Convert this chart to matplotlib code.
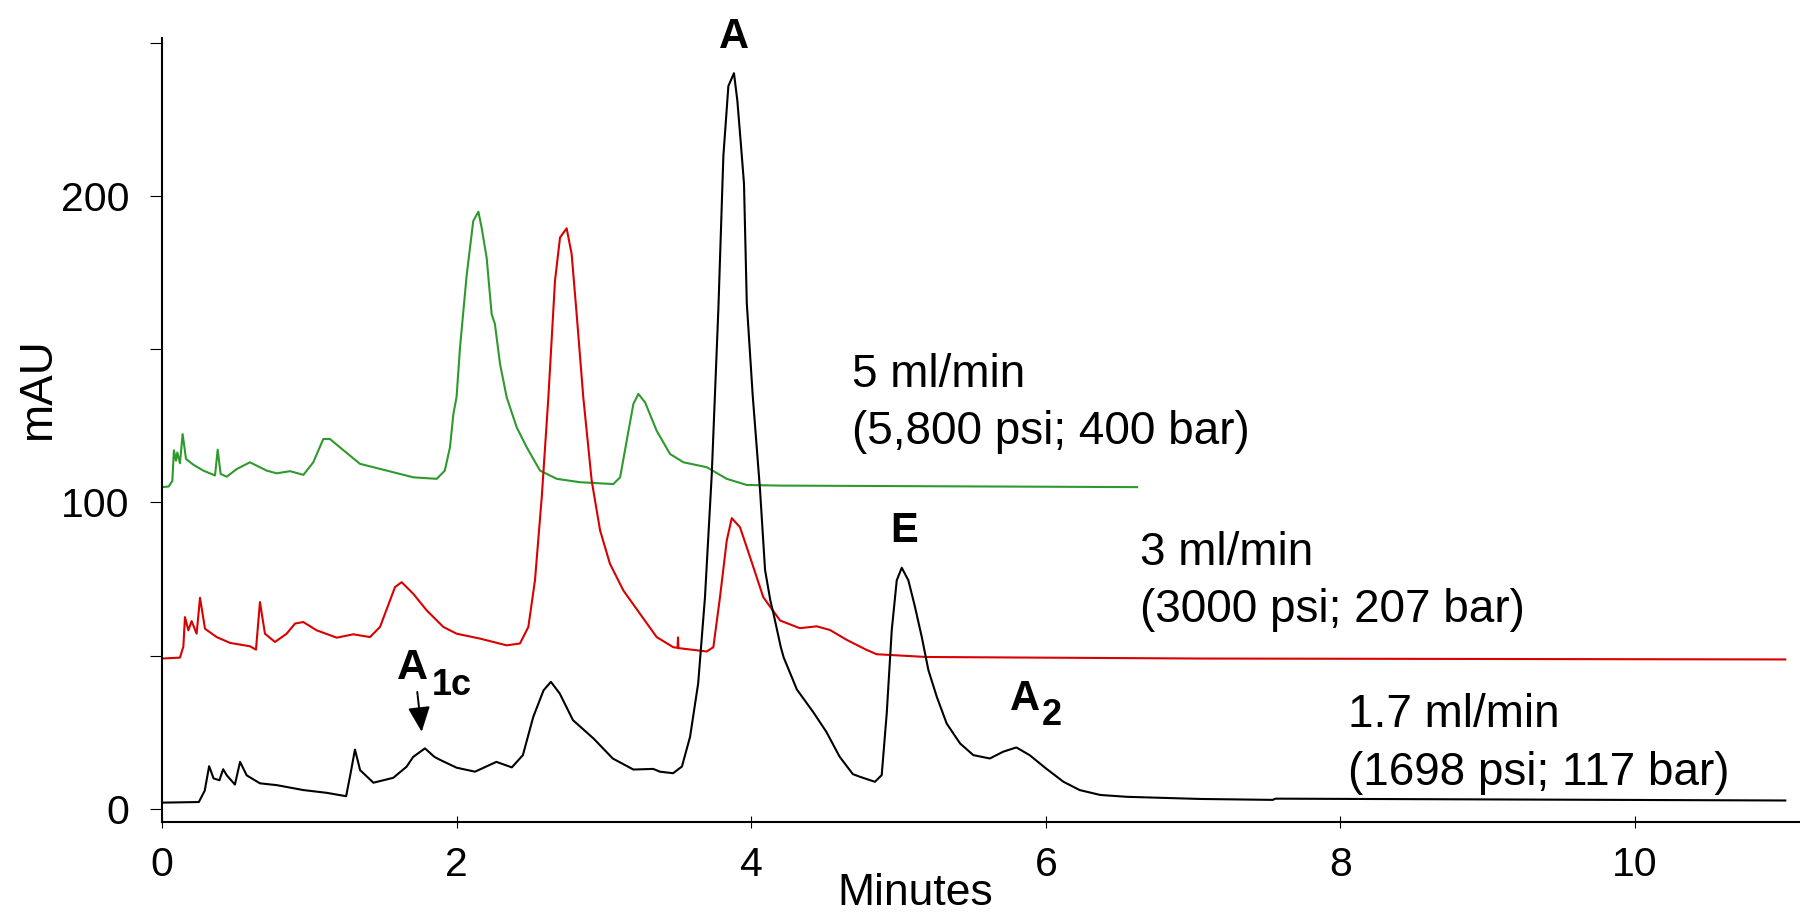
import matplotlib
matplotlib.use("Agg")
import matplotlib.pyplot as plt

# 1.7 ml/min trace (black) : minutes, mAU
t_17 = [0.0, 0.25, 0.29, 0.32, 0.35, 0.39, 0.415, 0.44, 0.495, 0.53, 0.575, 0.665,
        0.78, 0.96, 1.118, 1.25, 1.28, 1.31, 1.345, 1.435, 1.57, 1.66, 1.705, 1.785,
        1.85, 1.89, 2.0, 2.125, 2.27, 2.375, 2.45, 2.52, 2.59, 2.64, 2.70, 2.79,
        2.93, 3.06, 3.2, 3.335, 3.38, 3.47, 3.53, 3.585, 3.64, 3.686, 3.732, 3.777,
        3.811, 3.845, 3.883, 3.906, 3.928, 3.951, 3.97, 4.01, 4.06, 4.094, 4.13,
        4.15, 4.2, 4.22, 4.31, 4.42, 4.51, 4.6, 4.69, 4.74, 4.84, 4.886, 4.92,
        4.954, 4.988, 5.022, 5.067, 5.112, 5.158, 5.203, 5.26, 5.327, 5.418, 5.508,
        5.62, 5.71, 5.80, 5.89, 6.0, 6.12, 6.23, 6.37, 6.55, 7.05, 7.54, 7.56, 11.02]
v_17 = [2.1, 2.3, 6.0, 14.0, 10.0, 9.4, 13.0, 11.0, 8.0, 15.4, 11.0, 8.4,
        7.8, 6.2, 5.3, 4.2, 11.6, 19.4, 12.7, 8.6, 10.2, 13.8, 17.0, 19.8,
        17.0, 16.0, 13.5, 12.2, 15.4, 13.6, 17.6, 30.0, 38.7, 41.5, 37.7, 29.0,
        23.0, 16.5, 12.9, 13.1, 12.2, 11.7, 13.9, 23.6, 41.0, 69.0, 109.0, 163.0,
        213.0, 235.8, 240.0, 231.0, 218.0, 204.0, 165.0, 135.0, 104.0, 78.0, 68.0,
        64.0, 53.0, 49.5, 39.0, 31.7, 25.2, 17.1, 11.4, 10.5, 8.9, 11.1, 31.2,
        58.3, 74.6, 78.7, 74.6, 65.9, 56.1, 45.3, 36.6, 27.9, 21.4, 17.6,
        16.5, 18.7, 20.1, 17.6, 13.3, 8.9, 6.2, 4.6, 4.0, 3.3, 3.0, 3.4, 2.8]

# 3 ml/min trace (red)
t_3 = [0.0, 0.122, 0.145, 0.156, 0.179, 0.201, 0.235, 0.258, 0.292, 0.371, 0.462,
       0.597, 0.638, 0.665, 0.699, 0.767, 0.846, 0.903, 0.959, 1.05, 1.186, 1.299,
       1.412, 1.48, 1.582, 1.627, 1.706, 1.797, 1.91, 2.0, 2.159, 2.34, 2.43, 2.487,
       2.532, 2.578, 2.623, 2.668, 2.702, 2.747, 2.781, 2.815, 2.86, 2.917, 2.974,
       3.041, 3.132, 3.245, 3.358, 3.471, 3.50, 3.503, 3.506, 3.698, 3.743, 3.788,
       3.834, 3.868, 3.924, 3.992, 4.082, 4.196, 4.33, 4.445, 4.535, 4.648, 4.784,
       4.852, 5.19, 7.05, 11.02]
v_3 = [49.1, 49.4, 53.0, 62.6, 58.3, 61.3, 57.2, 68.9, 58.8, 56.1, 54.2,
       53.1, 52.0, 67.5, 57.2, 54.5, 57.2, 60.5, 61.0, 58.3, 55.9, 57.0,
       56.1, 59.4, 72.4, 74.0, 70.2, 64.8, 59.4, 57.2, 55.6, 53.4, 54.0, 59.4,
       74.6, 101.7, 134.3, 172.3, 186.4, 189.4, 181.0, 161.4, 134.3, 107.1, 90.9,
       80.0, 71.3, 63.7, 56.1, 52.8, 52.6, 56.0, 52.5, 51.4, 52.8, 69.1,
       87.6, 94.9, 91.9, 82.2, 69.1, 61.5, 59.0, 59.6, 58.4, 55.2, 51.9,
       50.5, 49.6, 49.1, 48.8]

# 5 ml/min trace (green)
t_5 = [0.0, 0.045, 0.07, 0.081, 0.095, 0.104, 0.122, 0.14, 0.163, 0.213, 0.28,
       0.36, 0.378, 0.398, 0.44, 0.507, 0.597, 0.71, 0.778, 0.869, 0.96, 1.027,
       1.095, 1.14, 1.22, 1.344, 1.525, 1.706, 1.865, 1.92, 1.955, 1.978, 2.0,
       2.023, 2.069, 2.113, 2.148, 2.17, 2.204, 2.238, 2.26, 2.295, 2.34, 2.408,
       2.476, 2.566, 2.68, 2.838, 3.064, 3.11, 3.155, 3.2, 3.234, 3.28, 3.358,
       3.449, 3.54, 3.698, 3.834, 3.97, 4.196, 6.62]
v_5 = [105.0, 105.2, 107.0, 117.0, 113.6, 116.3, 112.8, 122.3, 114.2, 112.3, 110.4,
       108.8, 117.2, 109.3, 108.4, 110.9, 113.1, 110.4, 109.5, 110.2, 109.0, 113.1,
       120.7, 120.7, 117.5, 112.6, 110.4, 108.2, 107.7, 110.4, 118.0, 128.8, 134.5,
       150.5, 174.4, 191.8, 194.8, 189.6, 179.8, 161.4, 158.2, 145.1, 134.3, 124.5,
       118.0, 110.4, 107.7, 106.6, 106.0, 108.2, 120.2, 132.1, 135.4, 132.6, 123.4,
       115.8, 113.1, 111.5, 107.7, 105.7, 105.5, 105.0]

x_ticks = [0, 2, 4, 6, 8, 10]
y_ticks = [0, 50, 100, 150, 200, 250]
y_tick_labels = ['0', '', '100', '', '200', '']

# flow rate captions (two lines each)
flow_labels = [("5 ml/min", "(5,800 psi; 400 bar)"),
               ("3 ml/min", "(3000 psi; 207 bar)"),
               ("1.7 ml/min", "(1698 psi; 117 bar)")]
flow_pos = [(4.682, 137.8, 119.1), (6.639, 79.6, 61.1), (8.052, 26.9, 7.8)]

plt.rcParams['font.family'] = ['Liberation Sans', 'DejaVu Sans']

fig = plt.figure(figsize=(18, 9.16), dpi=100)
ax = fig.add_axes([0.09, 0.103, 0.91, 0.8556])

ax.plot(t_5, v_5, color='#2e9a2e', lw=1.5)
ax.plot(t_3, v_3, color='#d90000', lw=1.5)
ax.plot(t_17, v_17, color='black', lw=1.5)

ax.set_xlim(0, 11.12)
ax.set_ylim(-4.1, 251.5)
ax.set_xticks(x_ticks)
ax.set_yticks(y_ticks)
ax.set_yticklabels(y_tick_labels)

for s in ['top', 'right']:
    ax.spines[s].set_visible(False)
for s in ['left', 'bottom']:
    ax.spines[s].set_linewidth(1.5)

ax.tick_params(axis='x', direction='inout', length=8.6, width=0.8, labelsize=29.5, pad=13)
ax.tick_params(axis='y', direction='out', length=8.6, width=0.8, labelsize=29.5, pad=15)

ax.set_xlabel('Minutes', fontsize=32)
ax.xaxis.set_label_coords(0.46, -0.066)
ax.set_ylabel('mAU', fontsize=33)
ax.yaxis.set_label_coords(-0.0625, 0.552)

for (l1, l2), (x, y1, y2) in zip(flow_labels, flow_pos):
    ax.text(x, y1, l1, fontsize=33, ha='left', va='baseline')
    ax.text(x, y2, l2, fontsize=33, ha='left', va='baseline')

# peak names
ax.text(3.88, 248.3, 'A', fontsize=30, fontweight='bold', ha='center', va='baseline')
ax.text(5.04, 87.2, 'E', fontsize=30, fontweight='bold', ha='center', va='baseline')
ax.text(5.757, 32.3, 'A', fontsize=30, fontweight='bold', ha='left', va='baseline')
ax.annotate('2', xy=(5.757, 32.3), xytext=(22.8, -10.8), textcoords='offset points',
            fontsize=26, fontweight='bold', ha='left', va='baseline')
ax.text(1.597, 42.3, 'A', fontsize=31, fontweight='bold', ha='left', va='baseline')
ax.annotate('1c', xy=(1.597, 42.3), xytext=(25.0, -11.3), textcoords='offset points',
            fontsize=26, fontweight='bold', ha='left', va='baseline')
ax.annotate('', xy=(1.763, 25.2), xytext=(1.733, 38.2),
            arrowprops=dict(arrowstyle='-|>,head_length=0.45,head_width=0.2',
                            mutation_scale=34, lw=1.4, color='black',
                            shrinkA=0, shrinkB=0))

fig.savefig('out.png', dpi=100)
